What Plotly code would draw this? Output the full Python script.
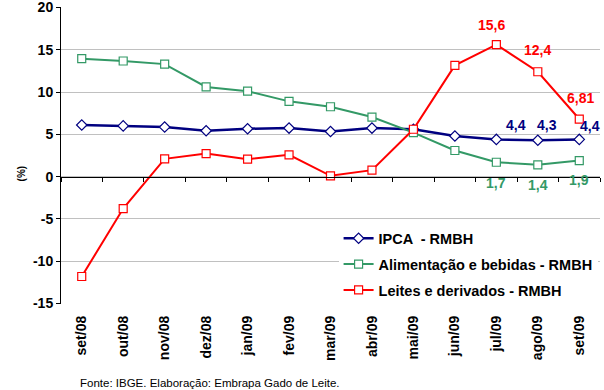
import plotly.graph_objects as go

meses = ["set/08", "out/08", "nov/08", "dez/08", "jan/09", "fev/09", "mar/09",
         "abr/09", "mai/09", "jun/09", "jul/09", "ago/09", "set/09"]
ipca = [6.1, 6.0, 5.86, 5.42, 5.66, 5.74, 5.34, 5.74, 5.6, 4.8, 4.4, 4.3, 4.4]
alimentacao = [13.94, 13.67, 13.3, 10.6, 10.1, 8.9, 8.26, 7.04, 5.2, 3.09, 1.7, 1.4, 1.9]
leites = [-11.8, -3.77, 2.1, 2.73, 2.07, 2.58, 0.1, 0.77, 5.6, 13.15, 15.6, 12.4, 6.81]
y_ticks = [-15, -10, -5, 0, 5, 10, 15, 20]
y_ticktext = ["-15", "-10", "-5", "0", "5", "10", "15", "20"]

NAVY = "#000080"
GREEN = "#339966"
RED = "#FF0000"
FONT = "Liberation Sans, Arial, sans-serif"

fig = go.Figure()
fig.add_trace(go.Scatter(
    x=meses, y=ipca, name="IPCA  - RMBH", mode="lines+markers",
    line=dict(color=NAVY, width=2.5),
    marker=dict(symbol="diamond", size=8, color="white", line=dict(color=NAVY, width=1.2)),
    legendgroup="a"))
fig.add_trace(go.Scatter(
    x=meses, y=alimentacao, name="Alimentação e bebidas - RMBH", mode="lines+markers",
    line=dict(color=GREEN, width=2),
    marker=dict(symbol="square", size=8, color="white", line=dict(color=GREEN, width=1.2)),
    legendgroup="b"))
fig.add_trace(go.Scatter(
    x=meses, y=leites, name="Leites e derivados - RMBH", mode="lines+markers",
    line=dict(color=RED, width=2),
    marker=dict(symbol="square", size=8, color="white", line=dict(color=RED, width=1.2)),
    legendgroup="c"))
# invisible trace to carry the zero-line category axis
fig.add_trace(go.Scatter(x=meses, y=ipca, xaxis="x2", mode="none", showlegend=False,
                         hoverinfo="skip"))

def lab(i, serie, color, xs, ys):
    fig.add_annotation(x=meses[i], y=serie[i], text=f"{serie[i]:g}".replace(".", ","),
                       showarrow=False, xshift=xs, yshift=ys,
                       font=dict(family=FONT, size=14, color=color, weight="bold"),
                       xref="x", yref="y")

lab(10, ipca, NAVY, 20, 14)
lab(11, ipca, NAVY, 9, 15)
lab(12, ipca, NAVY, 11, 13)
lab(10, leites, RED, -5, 20)
lab(11, leites, RED, 0, 22)
lab(12, leites, RED, 1, 21)
lab(10, alimentacao, GREEN, 0, -21)
lab(11, alimentacao, GREEN, 0, -20)
lab(12, alimentacao, GREEN, 0, -19)

fig.add_annotation(text="(%)", xref="paper", yref="paper", x=-0.088, y=0.44,
                   textangle=-90, showarrow=False,
                   font=dict(family=FONT, size=10, color="black", weight="bold"))
fig.add_annotation(text="Fonte: IBGE. Elaboração: Embrapa Gado de Leite.", xref="paper",
                   yref="paper", x=0.032, y=-0.265, xanchor="left", yanchor="middle",
                   showarrow=False, font=dict(family=FONT, size=11.5, color="black"))

fig.update_layout(
    width=604, height=390,
    margin=dict(l=61, r=4, t=7, b=86, autoexpand=False),
    paper_bgcolor="white", plot_bgcolor="white",
    font=dict(family=FONT, color="black"),
    showlegend=True,
    legend=dict(x=0.515, y=0.275, xanchor="left", yanchor="top",
                bgcolor="white", borderwidth=0,
                font=dict(family=FONT, size=14.5, color="black", weight="bold"),
                tracegroupgap=4, traceorder="grouped", itemwidth=30),
    xaxis=dict(type="category", categoryarray=meses, range=[-0.5, 12.5],
               showgrid=False, showline=False, ticks="", tickangle=-90,
               tickfont=dict(family=FONT, size=14, color="black", weight="bold"),
               zeroline=False, ticklabelstandoff=8, automargin=False),
    xaxis2=dict(type="category", categoryarray=meses, range=[-0.5, 12.5],
                overlaying="x", anchor="free", position=15.05 / 35.1,
                showline=True, linecolor="black", linewidth=1,
                ticks="outside", ticklen=4, tickcolor="black", tickson="boundaries",
                showticklabels=False, showgrid=False, zeroline=False),
    yaxis=dict(range=[-15.05, 20.05], tickvals=y_ticks, ticktext=y_ticktext,
               showgrid=True, gridcolor="#c0c0c0", ticklabeloverflow="allow",
               gridwidth=1, showline=True, linecolor="black", linewidth=1,
               ticks="outside", ticklen=4, tickcolor="black", zeroline=False,
               automargin=False,
               tickfont=dict(family=FONT, size=14, color="black", weight="bold")),
)

fig.write_html("out.html", config={"displayModeBar": False},
               post_script="document.body.style.margin='0';")
